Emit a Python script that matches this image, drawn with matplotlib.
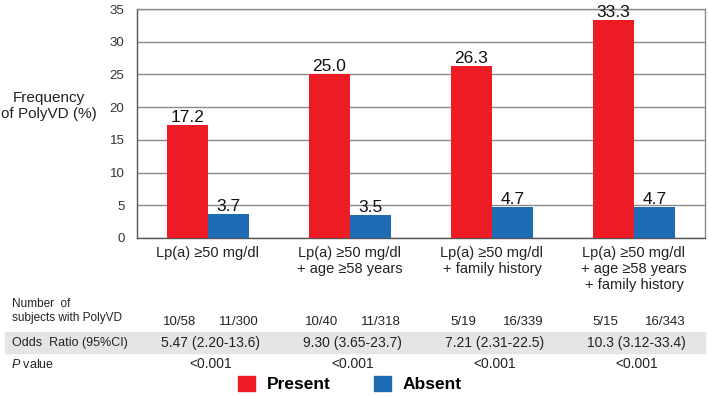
import matplotlib.pyplot as plt
import matplotlib.transforms as mtransforms
from matplotlib.patches import Rectangle, Patch
import numpy as np

plt.rcParams['font.family'] = ['Liberation Sans', 'DejaVu Sans']
plt.rcParams['mathtext.fontset'] = 'custom'
plt.rcParams['mathtext.it'] = 'Liberation Sans:italic'
plt.rcParams['mathtext.rm'] = 'Liberation Sans'

# data
categories = ['Lp(a) \u226550 mg/dl',
              'Lp(a) \u226550 mg/dl\n+ age \u226558 years',
              'Lp(a) \u226550 mg/dl\n+ family history',
              'Lp(a) \u226550 mg/dl\n+ age \u226558 years\n+ family history']
present = [17.2, 25.0, 26.3, 33.3]
absent = [3.7, 3.5, 4.7, 4.7]
n_present = ['10/58', '10/40', '5/19', '5/15']
n_absent = ['11/300', '11/318', '16/339', '16/343']
odds_ratio = ['5.47 (2.20-13.6)', '9.30 (3.65-23.7)', '7.21 (2.31-22.5)', '10.3 (3.12-33.4)']
p_values = ['<0.001', '<0.001', '<0.001', '<0.001']
yticks = [0, 5, 10, 15, 20, 25, 30, 35]

red = '#ED1C24'
blue = '#1F6BB4'
W, H = 709, 397

fig = plt.figure(figsize=(W / 100, H / 100), dpi=100)
ax = fig.add_axes([137 / W, 1 - 238 / H, (705 - 137) / W, (238 - 9) / H])

x = np.arange(len(categories))
bw = 0.29
b1 = ax.bar(x - bw / 2, present, bw, color=red, zorder=3)
b2 = ax.bar(x + bw / 2, absent, bw, color=blue, zorder=3)
ax.bar_label(b1, labels=[f'{v:.1f}' for v in present], padding=0, fontsize=12.5, color='#111111')
ax.bar_label(b2, labels=[f'{v:.1f}' for v in absent], padding=0, fontsize=12.5, color='#111111')

ax.set_xlim(-0.5, len(categories) - 0.5)
ax.set_ylim(0, 35)
ax.set_yticks(yticks)
ax.tick_params(axis='y', length=0, pad=9, labelsize=9.5, colors='#333333')
ax.set_xticks(x)
ax.set_xticklabels(categories, fontsize=10.5, linespacing=1.15, color='#222222')
ax.tick_params(axis='x', length=0, pad=6)
ax.yaxis.grid(True, color='#8a8a8a', linewidth=1, zorder=0)
for s in ax.spines.values():
    s.set_color('#8a8a8a')
    s.set_linewidth(1)
ax.spines['left'].set_color('#555555')
ax.spines['bottom'].set_color('#555555')

fig.text(49 / W, 1 - 106 / H, 'Frequency\nof PolyVD (%)', ha='center', va='center',
         fontsize=11, linespacing=1.2, color='#222222')

# table below the chart
tr = mtransforms.blended_transform_factory(ax.transData, fig.transFigure)
fig.patches.append(Rectangle((5 / W, 1 - 353 / H), 700 / W, 21 / H,
                             transform=fig.transFigure, color='#E6E4E4', zorder=0))
fig.text(12 / W, 1 - 311 / H, 'Number  of\nsubjects with PolyVD', ha='left', va='center',
         fontsize=8.5, linespacing=1.25, color='#222222')
fig.text(12 / W, 1 - 343 / H, 'Odds  Ratio (95%CI)', ha='left', va='center',
         fontsize=9, color='#222222')
fig.text(11 / W, 1 - 364 / H, r'$\it{P}$ value', ha='left', va='center',
         fontsize=9, color='#222222')
for i in range(len(categories)):
    fig.text(i - 0.2, 1 - 322 / H, n_present[i], transform=tr, ha='center', va='center',
             fontsize=9.5, color='#222222')
    fig.text(i + 0.22, 1 - 322 / H, n_absent[i], transform=tr, ha='center', va='center',
             fontsize=9.5, color='#222222')
    fig.text(i + 0.02, 1 - 343 / H, odds_ratio[i], transform=tr, ha='center', va='center',
             fontsize=10, color='#222222')
    fig.text(i + 0.02, 1 - 364 / H, p_values[i], transform=tr, ha='center', va='center',
             fontsize=10, color='#222222')

handles = [Patch(color=red, label='Present'), Patch(color=blue, label='Absent')]
fig.legend(handles=handles, loc='center', bbox_to_anchor=(350 / W, 1 - 384 / H), ncol=2,
           frameon=False, prop={'weight': 'bold', 'size': 12.5}, handlelength=0.95,
           handleheight=1.0, handletextpad=0.7, columnspacing=2.5, borderpad=0)

fig.savefig('out.png', dpi=100)
